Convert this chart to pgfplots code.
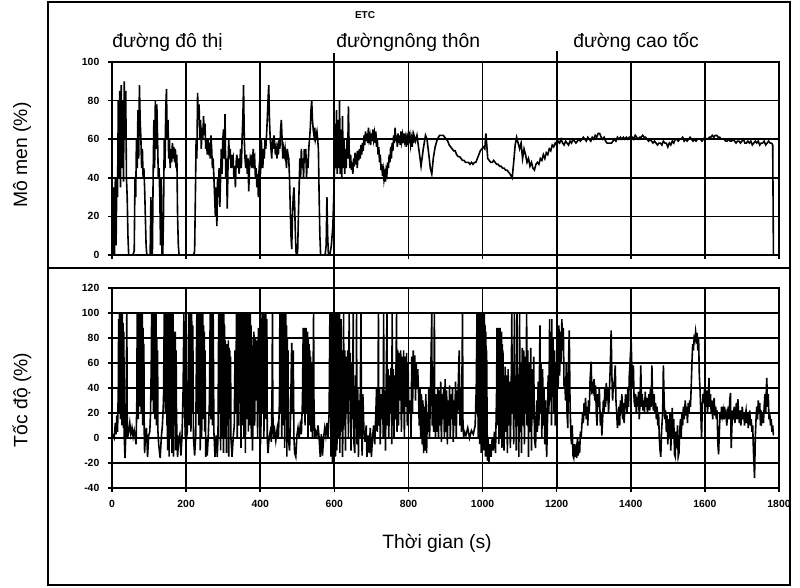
\documentclass[border=0pt]{standalone}
\usepackage{fontspec}
\setmainfont{Liberation Sans}
\usepackage{pgfplots}
\pgfplotsset{compat=1.18}
\pgfplotsset{
  panel/.style={
    scale only axis, width=500.25pt,
    xmin=0, xmax=1800, xtick={0,200,...,1800},
    grid=major, major grid style={black, line width=1.3pt},
    axis line style={line width=1.4pt},
    tick align=outside, tick pos=left, major tick length=3pt,
    tick style={black, line width=1.2pt},
    ticklabel style={font=\fontsize{7.8}{9}\selectfont\bfseries},
    yticklabel style={xshift=-3pt},
    xticklabel style={yshift=-3pt},
    /pgf/number format/assume math mode=true,
    /pgf/number format/1000 sep={},
    anchor=south west,
  },
  trace/.style={black, line width=1.2pt, no marks},
}
\begin{document}
\begin{tikzpicture}
\path (0,0) rectangle (600pt,441pt);
% outer frame and divider
\draw[line width=1.3pt] (36pt,2.25pt) rectangle (592.5pt,439.5pt);
\draw[line width=1.3pt] (36pt,240pt) -- (592.5pt,240pt);

% torque panel
\begin{axis}[panel, at={(84pt,249.75pt)}, height=144.75pt,
  ymin=0, ymax=100, ytick={0,20,...,100}, xticklabels={}]
\addplot[trace] coordinates {
(0,0) (3,0) (5,35) (7,0) (9,40) (11,5) (13,40) (15,30) (17,80) (19,40) (21,85) (23,35) (25,88) (27,45) (29,80) (31,38) (33,90) (35,60) (37,85) (39,40) (41,30) (43,10) (45,0) (48,0) (52,0) (56,0) (60,2)
(62,40) (64,30) (66,60) (68,45) (70,75) (72,50) (74,88) (76,70) (78,60) (80,45) (82,55) (84,40) (86,45) (88,35) (90,20) (92,5) (94,0) (97,0) (100,0) (103,0) (105,30) (107,0) (109,0)
(111,40) (113,70) (115,45) (117,80) (119,55) (121,78) (123,60) (125,40) (127,45) (129,30) (131,5) (133,40) (135,0) (137,0) (139,20) (141,60) (143,45) (145,75) (147,86) (149,60) (151,70) (153,50) (155,60) (157,45) (159,55) (161,48) (163,58) (165,50) (167,56) (169,48) (171,55) (173,45) (175,52) (177,20) (179,5) (181,0)
(184,0) (188,0) (192,0) (196,0) (200,0) (204,0) (208,0) (212,0) (216,0) (220,0) (223,2) (225,30) (227,60) (229,50) (231,84) (233,70) (235,78) (237,60) (239,70) (241,55) (243,66) (245,60) (247,72) (249,62) (251,68) (253,55) (255,60) (257,52) (259,60) (261,55) (263,58) (265,50) (267,62) (269,55) (271,45) (273,50) (275,40) (277,30) (279,20) (281,35) (283,15) (285,40) (287,30) (289,45) (291,25) (293,40) (295,55) (297,42) (299,60) (301,65) (303,50) (305,73) (307,40) (309,50) (311,24) (313,45) (315,60) (317,50) (319,55) (321,45) (323,52) (325,48) (327,50) (329,40) (331,46) (333,35) (335,48) (337,52) (339,45) (341,50) (343,42) (345,48) (347,55) (349,45) (351,60) (353,70) (355,88) (357,60) (359,50) (361,45) (363,52) (365,42) (367,50) (369,33) (371,45) (373,50) (375,48) (377,52) (379,45) (381,55) (383,48) (385,50) (387,40) (389,45) (391,35) (393,42) (395,30) (397,45) (399,50)
(401,42) (403,60) (405,50) (407,45) (409,55) (411,50) (413,60) (415,55) (417,62) (419,70) (421,80) (423,88) (425,70) (427,60) (429,55) (431,50) (433,60) (435,55) (437,62) (439,58) (441,52) (443,55) (445,50) (447,55) (449,52) (451,60) (453,55) (455,65) (457,70) (459,60) (461,50) (463,55) (465,52) (467,55) (469,50) (471,45) (473,55) (475,52) (477,50) (479,40) (481,25) (483,10) (485,3) (487,20) (489,30) (491,35) (493,25) (495,10) (497,0) (499,0) (501,2) (503,20) (505,35) (507,50) (509,40) (511,55) (513,45) (515,50) (517,40) (519,55) (521,48) (523,55) (525,40) (527,50) (529,45) (531,55) (533,60) (535,65) (537,75) (539,80) (541,70) (543,65) (545,62) (547,66) (549,60) (551,62) (553,64) (555,60) (557,55) (559,30) (561,10) (563,0) (566,0) (569,0) (572,0) (575,0) (578,5) (580,30) (582,10) (584,0) (588,0) (592,5) (596,15)
(600,40) (602,68) (604,45) (606,75) (608,42) (610,70) (612,45) (614,80) (616,42) (618,65) (620,40) (622,72) (624,45) (626,60) (628,42) (630,55) (632,45) (634,60) (636,50) (638,77)
(640,55) (642,45) (644,52) (646,44) (648,48) (650,42) (652,50) (654,46) (656,53) (658,47) (660,50) (662,45) (664,54) (666,49) (668,55) (670,50) (672,57) (674,52) (676,58) (678,54) (680,62) (682,57) (684,64) (686,59) (688,63) (690,58) (692,66) (694,60) (696,62) (698,57) (700,63) (702,59) (704,65) (706,60) (708,63) (710,58) (712,64) (714,56) (716,60) (718,52) (720,56) (722,48) (724,52) (726,44) (728,47) (730,41) (732,44) (734,39) (736,42) (738,38) (740,44) (742,42) (744,48) (746,45) (748,52) (750,48) (752,56) (754,50) (756,58) (758,54) (760,62) (762,58) (764,66) (766,59) (768,62) (770,56) (772,63) (774,58) (776,62) (778,57) (780,64) (782,59) (784,62) (786,58) (788,63) (790,59) (792,61) (794,56) (796,60) (798,57) (800,64) (802,60) (804,62) (806,57) (808,60) (810,56) (812,61) (814,58)
(815,62) (819,59) (823,62) (830,52) (834,46) (840,55) (846,62) (850,60) (855,52) (859,45) (863,42) (867,50) (872,56) (878,60) (884,62) (890,62) (894,62) (898,61) (902,60) (906,59) (910,57) (914,56) (918,55) (922,54) (926,54) (930,52) (934,51) (938,51) (942,50) (946,49) (950,49) (954,48) (958,48) (962,48) (966,47) (970,48) (974,47) (978,48) (982,48) (986,50) (990,52) (994,54) (998,55) (1002,56) (1006,55) (1009,63) (1011,58) (1014,50) (1018,49) (1022,48) (1026,48) (1030,49) (1034,48) (1038,47) (1042,47) (1046,46) (1050,46) (1054,45) (1058,45) (1062,44) (1066,44) (1070,43) (1074,42) (1077,41) (1080,40) (1084,48) (1088,57) (1092,61) (1096,58) (1100,55) (1104,58) (1108,50) (1112,55) (1116,52) (1120,48) (1124,50) (1128,46) (1132,48) (1136,45) (1140,44) (1144,47) (1148,48) (1152,47) (1156,50) (1160,49) (1164,52) (1168,50) (1172,53) (1176,52) (1180,55) (1184,54) (1188,57) (1192,56) (1196,58) (1200,57) (1204,59) (1208,58)
(1212,60) (1216,58) (1220,57) (1224,59) (1228,58) (1232,57) (1236,59) (1240,58) (1244,60) (1248,59) (1252,58) (1256,59) (1260,60) (1264,59) (1268,60) (1272,61) (1276,60) (1280,59) (1284,61) (1288,60) (1292,59) (1296,61) (1300,60) (1304,62) (1308,61) (1312,63) (1316,63) (1320,61) (1324,60) (1328,61) (1332,59) (1336,58) (1340,58) (1344,58) (1348,58) (1352,59) (1356,60) (1360,59) (1364,61) (1368,60) (1372,61) (1376,60) (1380,61) (1384,60) (1388,61) (1392,60) (1396,61) (1400,60) (1404,61) (1408,60) (1412,62) (1416,61) (1420,60) (1424,61) (1428,61) (1432,62) (1436,61) (1440,61) (1444,60) (1448,59) (1452,60) (1456,59) (1460,58) (1464,59) (1468,58) (1472,57) (1476,58) (1480,58) (1484,57) (1488,59) (1492,58) (1496,58) (1500,56) (1504,58) (1508,57) (1512,59) (1516,58) (1520,60) (1524,60) (1528,59) (1532,60) (1536,60) (1540,61) (1544,59) (1548,60) (1552,59) (1556,60) (1560,61) (1564,60) (1568,59) (1572,60) (1576,59) (1580,60) (1584,60) (1588,60) (1592,59) (1596,60) (1600,61) (1604,60) (1608,60) (1612,61) (1616,61) (1620,62) (1624,61) (1628,62) (1632,62) (1636,61) (1640,61) (1644,60) (1648,60) (1652,60) (1656,59) (1660,59) (1664,60) (1668,59) (1672,59) (1676,60) (1680,59) (1684,58) (1688,59) (1692,59) (1696,58) (1700,59) (1704,60) (1708,58) (1712,58) (1716,59) (1720,58) (1724,59) (1728,57) (1732,58) (1736,59) (1740,58) (1744,59) (1748,57) (1752,58) (1756,58) (1760,59) (1764,57) (1768,58) (1772,59) (1776,58) (1780,58) (1783,57) (1785,0) (1790,0)
};
\end{axis}

% speed panel
\begin{axis}[panel, at={(84pt,75pt)}, height=150pt,
  ymin=-40, ymax=120, ytick={-40,-20,...,120}]
\addplot[trace] coordinates {
(0,0) (3,2) (6,0) (9,12) (11,3) (13,18) (15,5) (17,40) (18,95) (19,20) (20,100) (21,35) (22,100) (23,15) (24,98) (25,40) (26,100) (27,10) (28,100) (29,30) (30,92) (31,8) (32,85) (33,2) (35,-16) (37,0) (39,60) (40,100) (41,20) (42,0)
(45,5) (48,12) (51,3) (54,8) (57,1) (60,6) (62,2) (65,-5) (67,30) (68,100) (69,40) (70,100) (71,15) (72,100) (73,50) (74,100) (75,25) (76,100) (77,60) (78,100) (79,20) (80,95) (81,40) (82,100) (83,10) (84,88) (85,30) (86,75) (87,5) (88,-12) (90,0) (93,8) (96,-15) (99,2) (102,5)
(104,20) (106,60) (107,100) (108,30) (109,100) (110,50) (111,100) (112,20) (113,95) (114,45) (115,100) (116,15) (117,90) (118,35) (119,100) (120,10) (121,80) (122,30) (123,70) (124,5) (126,-5) (130,-16) (133,0) (136,10) (139,30)
(141,100) (142,40) (143,100) (144,20) (145,100) (146,50) (147,100) (148,10) (149,100) (150,-10) (151,85) (152,30) (153,100) (154,-15) (155,90) (156,40) (157,100) (158,0) (159,85) (160,20) (161,100) (162,-12) (163,85) (164,35) (165,100) (166,-15) (167,85) (168,10) (169,80) (170,25) (171,85) (172,-10) (173,70) (174,20) (175,5)
(177,-15) (180,0) (183,3) (186,-14) (189,2) (192,40) (194,100) (196,20) (198,0) (200,-3) (203,5) (206,60) (207,100) (208,10) (209,100) (210,30) (212,100) (213,5) (215,100) (216,20) (218,90) (220,0) (223,-14) (226,2)
(229,100) (230,20) (231,100) (232,40) (233,100) (234,10) (235,100) (236,50) (237,100) (238,-10) (239,100) (240,30) (241,100) (242,0) (243,95) (244,40) (245,100) (246,15) (247,90) (248,30) (249,85) (250,5) (251,70) (253,-15) (255,0) (257,-14) (260,3)
(263,30) (265,100) (267,15) (269,100) (271,10) (273,100) (275,5) (278,-15) (281,2) (284,-15) (286,0)
(288,100) (289,20) (290,100) (291,40) (292,100) (293,-10) (294,100) (295,30) (296,100) (297,0) (298,100) (299,50) (300,95) (301,-12) (302,100) (303,20) (304,90) (305,0) (306,78) (307,40) (308,75) (309,-12) (310,75) (311,10) (312,70) (313,30) (314,78) (315,-15) (316,72) (317,15) (318,70) (319,30) (320,65) (321,0)
(324,-15) (327,0) (330,10) (332,70) (334,20) (336,100) (338,0) (340,100) (342,10)
(345,100) (346,30) (347,100) (348,-8) (349,100) (350,40) (351,100) (352,10) (353,100) (354,50) (355,100) (356,0) (357,100) (358,30) (359,100) (360,-12) (361,100) (362,40) (363,100) (364,15) (365,100) (366,50) (367,100) (368,5) (369,100) (370,35) (371,95) (372,10) (373,100) (374,45) (375,90) (376,0) (377,80)
(379,-10) (381,20) (383,85) (385,10) (387,80) (389,30) (391,78) (393,0) (395,88) (397,20) (399,75) (401,-5)
(404,40) (405,100) (406,20) (407,100) (408,40) (409,100) (410,0) (411,100) (412,30) (413,100) (414,15) (415,100) (416,30) (418,95) (419,0)
(421,-12) (424,0) (427,5) (430,-3) (432,40) (433,100) (434,20) (436,0) (439,6) (442,-2) (446,8) (449,0)
(452,30) (453,100) (454,20) (455,100) (456,45) (457,100) (458,0) (459,100) (460,35) (461,100) (462,10) (463,100) (464,50) (465,100) (466,-8) (467,100) (468,30) (469,100) (470,15) (471,90) (472,-15) (473,80) (474,20) (475,70) (476,0)
(479,-10) (481,5) (483,40) (485,76) (487,20) (489,70) (491,0) (493,-12) (496,-15) (499,2) (502,8) (505,0) (508,10) (511,3)
(514,30) (516,88) (517,20) (518,85) (519,40) (520,88) (521,10) (522,86) (523,50) (524,88) (525,20) (526,80) (527,40) (528,85) (529,0) (530,80) (531,30) (532,75) (533,10) (534,70) (535,40) (536,65) (537,5) (538,60) (539,20)
(541,0) (543,60) (544,100) (545,30) (547,0) (550,5) (553,2) (556,10) (559,0) (562,-15) (565,3) (568,-14) (571,0) (574,8) (577,2) (580,12) (583,0) (586,20)
(588,100) (589,30) (590,100) (591,-15) (592,100) (593,50) (594,100) (595,-20) (596,100) (597,20) (598,100) (599,-18) (600,100) (601,40) (602,100) (603,-15) (604,95) (605,30) (606,100) (607,-10) (608,88) (609,40) (610,100) (611,0) (612,85) (613,20) (614,100) (615,-12) (616,80) (617,30) (618,95) (619,5) (620,70)
(622,-15) (624,20) (625,100) (626,10) (628,70) (630,-10) (632,65) (634,20) (636,70) (638,0) (640,100) (641,30) (643,68) (645,-10) (647,60) (649,15) (651,100) (652,0)
(655,-12) (657,50) (659,10) (660,100) (661,-5) (663,40) (665,-15) (667,30) (669,0) (672,100) (673,20) (675,-14) (677,35)
(680,5) (683,-3) (686,10) (688,-15) (691,2) (694,-12) (697,8) (700,-15) (703,0) (706,10) (709,-5) (712,20)
(714,40) (716,5) (718,38) (719,100) (720,10) (722,40) (724,-5) (726,35) (728,15) (730,40) (732,0) (733,100) (734,20) (736,38) (738,-10)
(742,100) (743,10) (745,55) (747,0) (749,50) (751,20) (753,56) (755,-5) (756,100) (757,10) (759,55) (761,0) (763,50) (765,15) (768,100) (769,5) (771,70) (773,10) (775,68) (777,30) (779,70) (781,5) (783,65) (785,20) (787,70) (789,0) (791,65) (793,25) (795,68) (797,10) (799,60) (801,20)
(805,30) (807,0) (809,65) (811,20) (813,70) (815,40) (817,66) (819,30) (821,60) (823,40) (825,55) (827,40)
(829,10) (831,40) (833,0) (835,35) (837,-5) (839,30) (841,-12) (843,25) (845,-10) (847,35) (849,-12) (851,20) (853,5) (855,40) (857,0) (859,30)
(863,100) (864,10) (866,30) (868,5) (870,100) (871,20) (873,0)
(875,35) (877,5) (879,40) (881,0) (883,38) (885,10) (887,45) (889,-3) (891,35) (893,15) (895,40) (897,0) (899,47) (901,5) (903,38) (905,-5) (907,30) (909,10) (911,42) (913,0) (915,35) (917,15) (919,40) (921,-3) (923,30) (925,10) (927,45) (929,0) (931,38) (933,20) (935,50)
(937,70) (939,10) (941,40) (943,5) (946,100) (947,15) (949,0) (951,5) (955,2) (960,8) (965,0) (970,6) (975,3) (980,10)
(983,40) (985,100) (986,20) (987,100) (988,0) (989,100) (990,40) (991,100) (992,-5) (993,100) (994,30) (995,100) (996,-12) (997,100) (998,50) (999,100) (1000,0) (1001,100) (1002,35) (1003,95) (1004,-10) (1005,100) (1006,20) (1007,90) (1008,-15) (1009,85) (1010,10) (1011,70)
(1013,-18) (1015,0) (1017,-20) (1020,-5) (1023,-15) (1026,0) (1029,-10) (1032,5) (1035,-12)
(1038,40) (1039,88) (1040,10) (1041,86) (1042,40) (1043,88) (1044,-5) (1045,85) (1046,30) (1047,88) (1048,0) (1049,80) (1050,35) (1051,85) (1052,-8) (1053,75) (1054,20) (1055,70) (1056,0)
(1058,-10) (1061,57) (1063,5) (1065,50) (1067,-12) (1069,55) (1071,10) (1073,45) (1075,-8) (1077,30)
(1079,100) (1080,20) (1082,60) (1084,-5) (1086,100) (1087,15) (1089,50) (1091,-10) (1093,100) (1094,10) (1096,40) (1098,-15) (1100,100) (1101,5) (1103,60)
(1105,-12) (1107,72) (1109,10) (1111,70) (1113,-5) (1115,65) (1117,20) (1119,100) (1120,10) (1122,70) (1124,-15) (1126,60) (1128,5) (1130,72) (1132,-10) (1134,55) (1136,15) (1138,65) (1140,0)
(1143,-8) (1146,30) (1148,5) (1150,45) (1152,10) (1155,90) (1156,20) (1158,60) (1160,0) (1162,55) (1164,10) (1166,40) (1168,-5) (1170,30)
(1173,-15) (1175,10) (1177,50) (1179,20) (1181,95) (1182,30) (1184,85) (1186,10) (1187,95) (1188,40) (1190,80) (1192,20) (1194,70) (1196,10) (1198,60)
(1200,30) (1202,75) (1204,40) (1206,90) (1208,50) (1210,85) (1212,60) (1214,95) (1216,70) (1218,88) (1220,40)
(1222,45) (1224,30) (1226,60) (1228,20) (1230,8) (1232,60) (1234,86) (1236,30) (1238,5) (1240,-5) (1242,10) (1244,-14) (1246,-16) (1248,-5) (1250,-15) (1252,-10) (1254,-16) (1256,0) (1258,-14) (1260,-8) (1262,-12) (1264,5) (1266,0) (1268,10) (1270,20) (1272,12) (1274,28) (1276,18) (1278,32) (1280,15) (1282,25) (1284,10) (1286,30) (1288,20) (1290,45) (1293,61) (1295,35) (1297,45) (1299,40) (1301,47) (1303,30) (1305,42) (1307,20) (1309,10) (1311,35) (1313,25) (1315,40) (1318,10) (1320,20) (1322,2) (1324,15) (1326,30) (1328,20) (1330,40) (1332,25) (1334,44) (1336,30) (1338,40) (1340,20) (1342,35) (1345,60) (1347,86) (1349,50) (1351,30) (1353,45) (1355,40) (1358,58) (1360,30) (1362,20) (1364,8) (1366,15) (1368,25) (1370,10) (1372,30) (1374,20) (1376,35) (1378,15) (1380,28) (1382,12) (1384,25) (1386,35) (1388,30) (1390,20) (1392,40) (1394,25) (1396,50) (1398,60) (1401,78) (1403,55) (1405,40) (1407,58) (1409,30)
(1411,25) (1413,35) (1415,20) (1417,30) (1419,28) (1421,37) (1423,15) (1425,30) (1427,58) (1429,25) (1431,35) (1433,22) (1435,30) (1437,20) (1439,37) (1441,25) (1443,32) (1445,20) (1447,28) (1449,35) (1451,22) (1453,40) (1455,25) (1457,58) (1459,30) (1461,22) (1463,35) (1465,20) (1467,28) (1469,15) (1471,25) (1473,10) (1475,20) (1477,0) (1479,-10) (1481,-15) (1483,5) (1486,20) (1488,58) (1490,30) (1492,15) (1494,22) (1496,5) (1498,18) (1500,-5) (1502,15) (1504,0) (1506,20) (1508,-10) (1510,10) (1512,24) (1514,0) (1516,15) (1518,-13) (1520,-15) (1522,5) (1524,-8) (1526,10) (1528,-15) (1530,-12) (1532,5) (1534,15) (1536,0) (1538,20) (1540,10) (1542,25) (1544,15) (1547,30) (1549,18) (1551,25) (1553,12) (1555,28) (1557,20) (1559,30) (1561,25) (1563,40) (1565,60) (1567,75) (1569,70) (1571,80) (1573,78) (1575,85) (1577,80) (1579,84) (1581,70) (1583,80) (1585,50) (1587,38) (1589,20) (1591,0)
(1593,25) (1595,35) (1597,28) (1599,40) (1601,30) (1603,25) (1605,38) (1607,20) (1609,30) (1611,48) (1613,25) (1615,35) (1617,20) (1619,30) (1621,15) (1623,25) (1625,32) (1627,18) (1629,25) (1631,15) (1633,22) (1635,-5) (1637,-13) (1639,5) (1641,20) (1643,15) (1645,25) (1647,18) (1649,22) (1651,15) (1653,25) (1655,18) (1657,20) (1659,10) (1661,18) (1663,25) (1665,15) (1667,30) (1669,36) (1671,-8) (1673,10) (1675,22) (1677,15) (1679,25) (1681,12) (1683,20) (1685,28) (1687,15) (1689,31) (1691,20) (1693,12) (1695,22) (1697,10) (1699,18) (1701,25) (1703,15) (1705,20) (1707,10) (1709,18) (1711,22) (1713,12) (1715,20) (1717,8) (1719,18) (1721,22) (1723,10) (1725,15) (1727,5) (1729,10) (1731,-10) (1734,-32) (1736,0) (1738,15) (1740,25) (1742,15) (1744,30) (1746,20) (1748,28) (1750,10) (1752,22) (1754,15) (1756,20) (1758,12) (1760,25) (1762,35) (1764,20) (1766,40) (1767,48) (1769,25) (1771,35) (1773,15) (1775,20) (1777,10) (1779,15) (1781,5) (1783,10) (1785,2)
};
\end{axis}

% section separators (t = 600 s and 1200 s)
\draw[line width=1.3pt] (250.75pt,225pt) -- (250.75pt,401.5pt);
\draw[line width=1.3pt] (417.5pt,225pt) -- (417.5pt,402.5pt);

% texts
\node[font=\fontsize{7.5}{9}\selectfont\bfseries] at (273.75pt,429.75pt) {ETC};
\node[font=\fontsize{14.5}{16}\selectfont, anchor=west, inner sep=0pt] at (84pt,409.5pt) {đường đô thị};
\node[font=\fontsize{14.5}{16}\selectfont, anchor=west, inner sep=0pt] at (252pt,409.5pt) {đườngnông thôn};
\node[font=\fontsize{14.5}{16}\selectfont, anchor=west, inner sep=0pt] at (429.75pt,409.5pt) {đường cao tốc};
\node[font=\fontsize{14.5}{16}\selectfont, rotate=90] at (16.5pt,324.75pt) {Mô men (\%)};
\node[font=\fontsize{14.5}{16}\selectfont, rotate=90] at (16.5pt,141pt) {Tốc độ (\%)};
\node[font=\fontsize{14.5}{16}\selectfont] at (327.75pt,33.75pt) {Thời gian (s)};
\end{tikzpicture}
\end{document}
